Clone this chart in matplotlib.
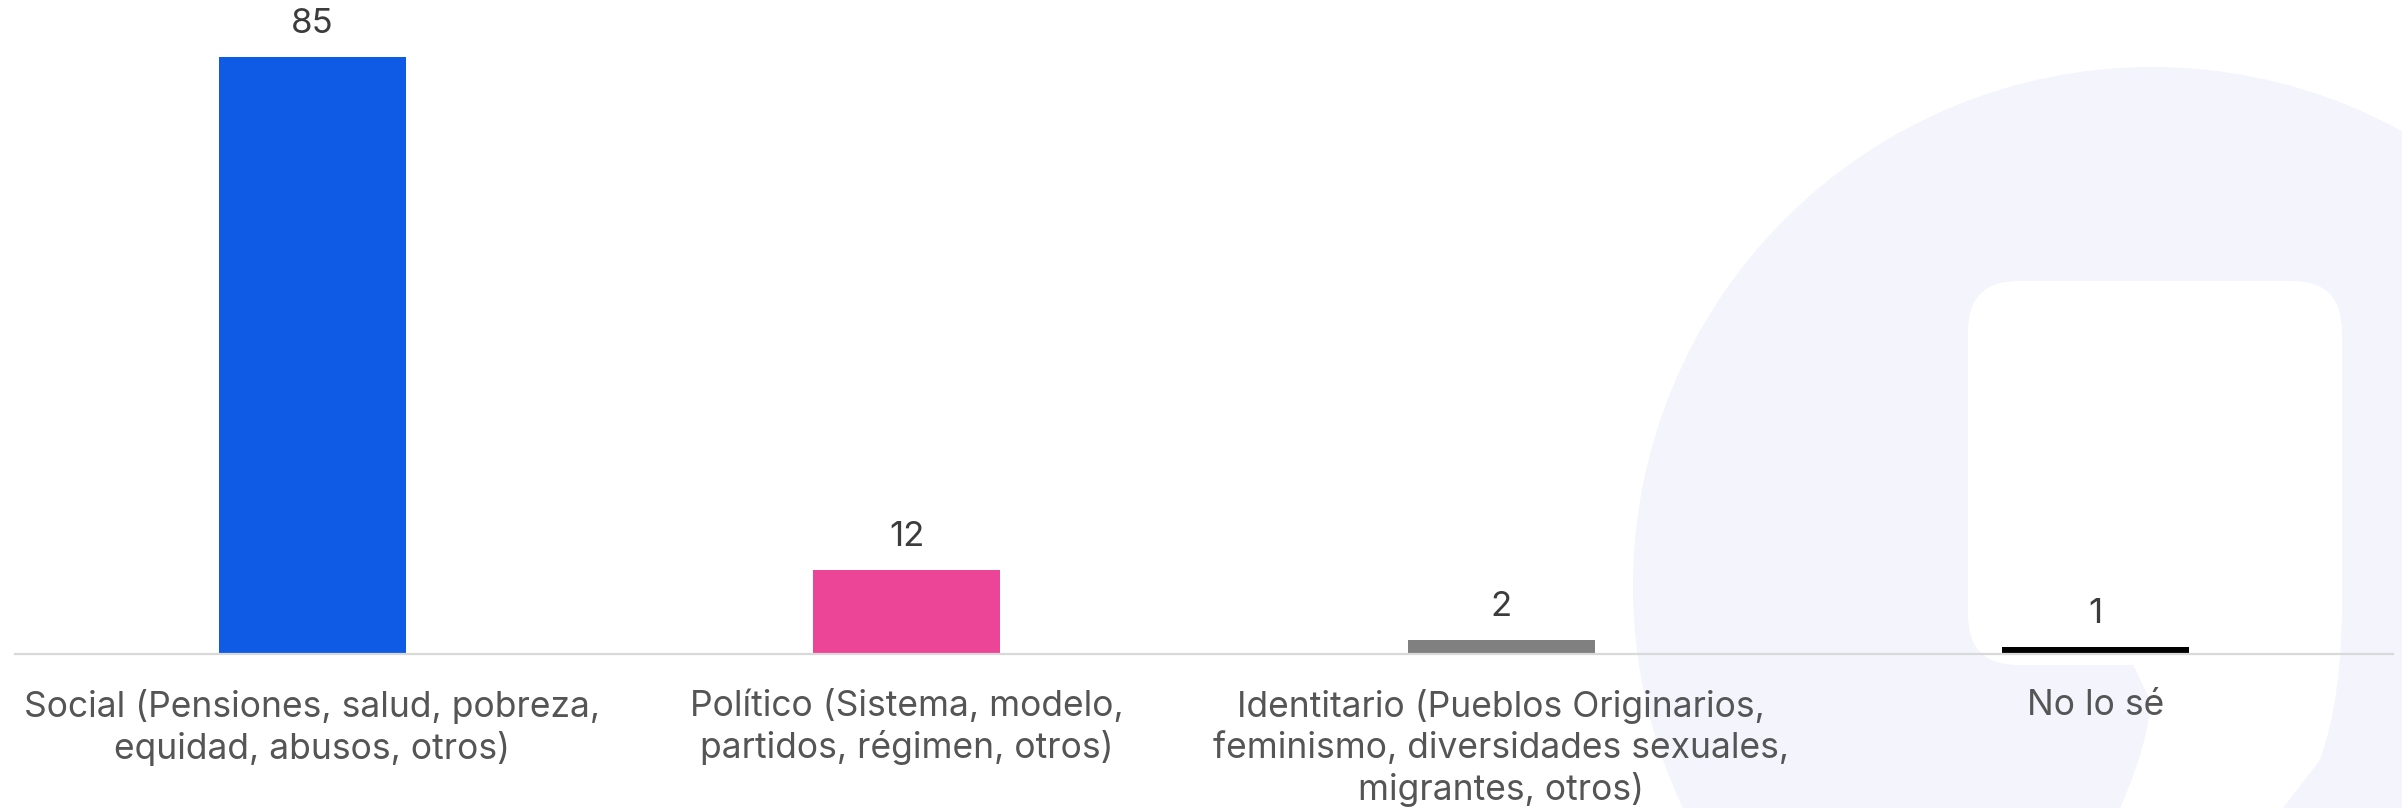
import matplotlib
matplotlib.use("Agg")
import matplotlib.pyplot as plt
from matplotlib.patches import Circle, FancyBboxPatch, PathPatch
from matplotlib.path import Path

# ---- data ----
categories = [
    "Social (Pensiones, salud, pobreza,\nequidad, abusos, otros)",
    "Político (Sistema, modelo,\npartidos, régimen, otros)",
    "Identitario (Pueblos Originarios,\nfeminismo, diversidades sexuales,\nmigrantes, otros)",
    "No lo sé",
]
values = [85, 12, 2, 1]
value_labels = ["85", "12", "2", "1"]
bar_colors = ["#0F5BE6", "#EC4497", "#808080", "#000000"]

W, H = 2402, 808
plt.rcParams["font.family"] = ["Inter", "DejaVu Sans"]
fig = plt.figure(figsize=(W / 100, H / 100), dpi=100)
fig.patch.set_facecolor("white")

# ---- background watermark (pixel coordinates) ----
bg = fig.add_axes([0, 0, 1, 1], zorder=0)
bg.set_xlim(0, W)
bg.set_ylim(H, 0)
bg.axis("off")
wm = "#F3F4FC"
bg.add_patch(Circle((2152, 586), 519, facecolor=wm, edgecolor="none"))
bg.add_patch(FancyBboxPatch((1968 + 50, 281 + 50), 374 - 100, 384 - 100,
                            boxstyle="round,pad=50", facecolor="white",
                            edgecolor="none"))
verts = [
    (2100, 640), (2342, 600), (2342, 700), (2320, 760), (2283, 808),
    (2120, 808), (2150, 740), (2150, 700), (2133, 665), (2100, 665), (2100, 640),
]
codes = [Path.MOVETO, Path.LINETO, Path.CURVE3, Path.CURVE3, Path.LINETO,
         Path.LINETO, Path.CURVE3, Path.CURVE3, Path.LINETO, Path.LINETO,
         Path.CLOSEPOLY]
bg.add_patch(PathPatch(Path(verts, codes), facecolor="white", edgecolor="none"))

# ---- main chart ----
left = 15 / W
right = 2393 / W
bottom = 1 - 654 / H
ax = fig.add_axes([left, bottom, right - left, 1 - bottom], zorder=1)
ax.patch.set_alpha(0)

x = list(range(len(categories)))
bars = ax.bar(x, values, width=0.315, color=bar_colors, zorder=2)
ax.set_xlim(-0.5, len(categories) - 0.5)
ax.set_ylim(0, 93.1)

for rect, lab in zip(bars, value_labels):
    ax.annotate(lab, (rect.get_x() + rect.get_width() / 2, rect.get_height()),
                xytext=(0, 12), textcoords="offset points", ha="center",
                va="bottom", fontsize=25, color="#3c3c3c")

ax.set_xticks(x)
ax.set_xticklabels(categories, fontsize=25.5, color="#555555", linespacing=1.27)
ax.tick_params(axis="x", length=0, pad=25)
ax.set_yticks([])
for s in ["top", "left", "right"]:
    ax.spines[s].set_visible(False)
ax.spines["bottom"].set_color("#D9D9D9")
ax.spines["bottom"].set_linewidth(1.6)

fig.savefig("out.png", dpi=100, facecolor="white")
